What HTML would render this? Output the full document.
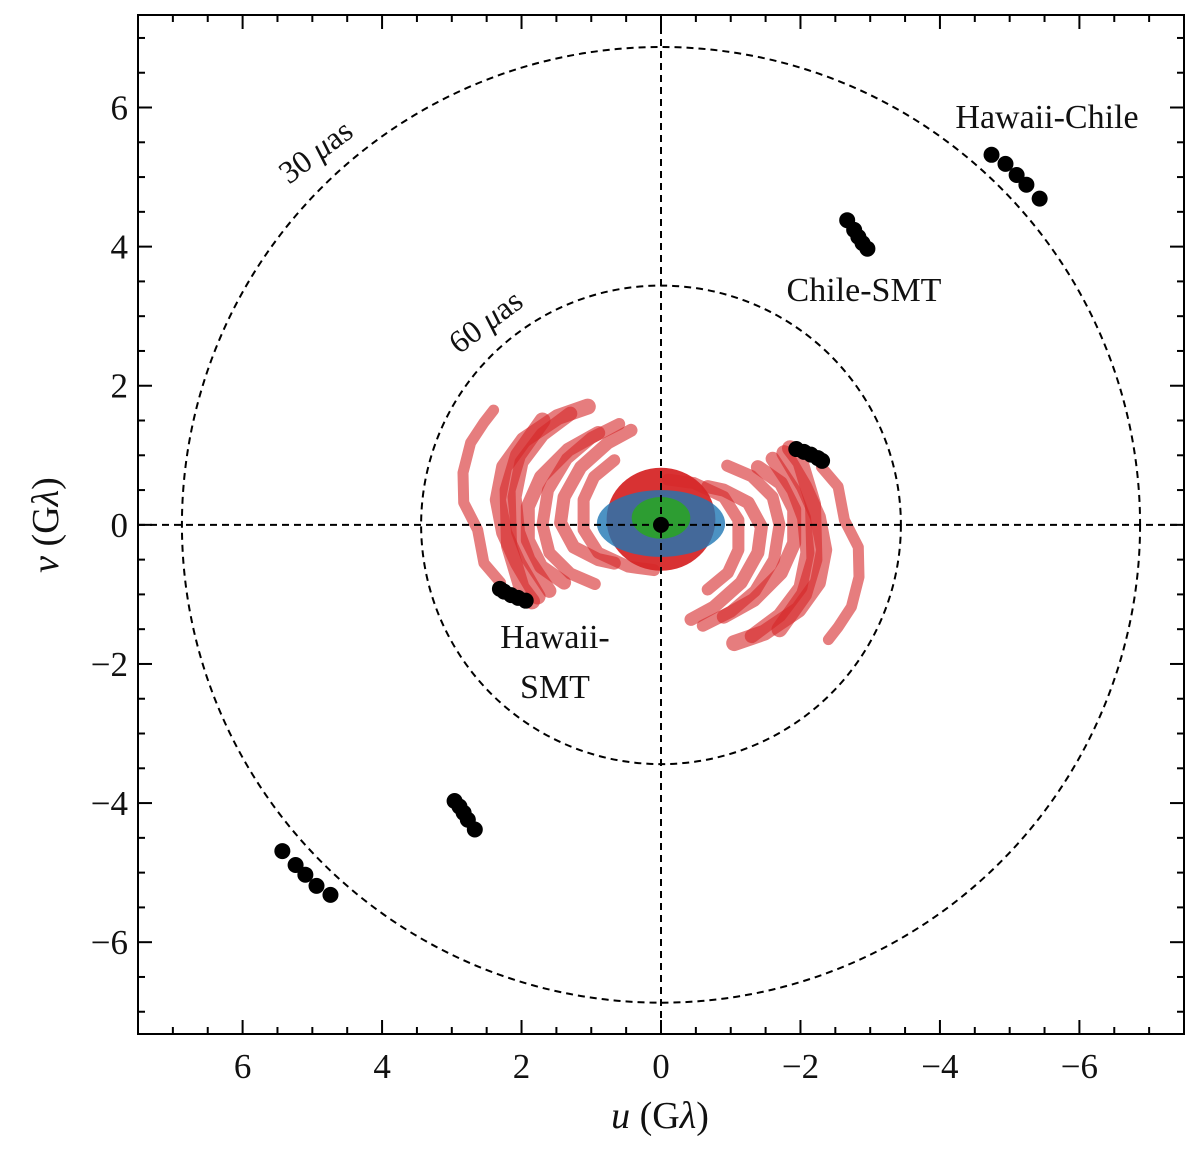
<!DOCTYPE html>
<html><head><meta charset="utf-8"><style>
html,body{margin:0;padding:0;background:#fff;overflow:hidden;}
svg{display:block;}
svg text{font-family:"Liberation Serif",serif;fill:#111;}
</style></head><body>
<svg id="chart" width="1200" height="1157" viewBox="0 0 1200 1157" xmlns="http://www.w3.org/2000/svg">
<g id="marks"></g>
<g id="axes"></g>
</svg>
<script>
// ---- data ----
const uRange = [7.5, -7.5];
const vRange = [-7.32, 7.33];
const tickValues = [-6, -4, -2, 0, 2, 4, 6];
const tickLabels = ["\u22126", "\u22124", "\u22122", "0", "2", "4", "6"];
const circleRadii = [6.87, 3.44];
// red tracks (one half; conjugates drawn by negation)
const redTrackA_u = [2.40, 2.54, 2.73, 2.84, 2.83, 2.63, 2.54, 2.30];
const redTrackA_v = [1.65, 1.47, 1.18, 0.75, 0.32, -0.07, -0.55, -0.83];
const redTrackB_u = [1.05, 1.48, 1.97, 2.25, 2.34, 2.25, 2.05, 1.77];
const redTrackB_v = [1.70, 1.55, 1.22, 0.83, 0.36, -0.11, -0.55, -1.03];
const redTrackC_u = [0.90, 1.33, 1.72, 1.91, 1.91, 1.72, 1.39];
const redTrackC_v = [1.32, 1.08, 0.69, 0.26, -0.22, -0.60, -0.83];
const redTrackD_u = [0.43, 0.76, 1.15, 1.39, 1.44, 1.25, 0.90, 0.67];
const redTrackD_v = [1.36, 1.18, 0.83, 0.40, 0.03, -0.32, -0.50, -0.55];
const redTrackE_u = [0.67, 0.96, 1.11, 1.11, 0.90, 0.47, 0.10];
const redTrackE_v = [0.93, 0.69, 0.36, -0.07, -0.40, -0.60, -0.65];
const redTrackF_u = [1.70, 2.05, 2.20, 2.18, 2.00, 1.85];
const redTrackF_v = [1.50, 1.00, 0.50, -0.30, -0.90, -1.10];
const redTrackG_u = [1.30, 1.70, 2.00, 2.10, 2.05, 1.90, 1.60];
const redTrackG_v = [1.60, 1.30, 0.90, 0.40, -0.10, -0.50, -0.95];
const redTrackH_u = [0.60, 1.00, 1.35, 1.62, 1.70, 1.60, 1.30, 0.95];
const redTrackH_v = [1.45, 1.25, 0.95, 0.50, 0.00, -0.40, -0.70, -0.85];
const redTracks = [[redTrackA_u, redTrackA_v], [redTrackB_u, redTrackB_v], [redTrackC_u, redTrackC_v], [redTrackD_u, redTrackD_v], [redTrackE_u, redTrackE_v], [redTrackF_u, redTrackF_v], [redTrackG_u, redTrackG_v], [redTrackH_u, redTrackH_v]];
const redWidths = [11, 16, 14, 13, 12, 16, 14, 12];
// central clusters: [u, v, radius-u, radius-v]
const redCore = [0, 0.08, 0.78, 0.74];
const blueCore = [0, 0.02, 0.92, 0.48];
const greenCore = [0, 0.1, 0.42, 0.3];
// black points
const hawaiiChile_u = [-4.74, -4.94, -5.10, -5.24, -5.43];
const hawaiiChile_v = [5.32, 5.19, 5.03, 4.89, 4.69];
const chileSMT_u = [-2.67, -2.77, -2.83, -2.89, -2.96];
const chileSMT_v = [4.38, 4.24, 4.14, 4.05, 3.97];
const hawaiiSMT_u = [-1.94, -2.05, -2.15, -2.25, -2.31];
const hawaiiSMT_v = [1.09, 1.05, 1.01, 0.96, 0.92];

// ---- scales ----
const X0 = 138, X1 = 1184, Y0 = 15, Y1 = 1034;
function xs(u){ return X0 + (u - uRange[0]) / (uRange[1] - uRange[0]) * (X1 - X0); }
function ys(v){ return Y1 - (v - vRange[0]) / (vRange[1] - vRange[0]) * (Y1 - Y0); }
const NS = "http://www.w3.org/2000/svg";
const svg = document.getElementById('chart');
const marks = document.getElementById('marks');
const axes = document.getElementById('axes');
function mk(tag, attrs, parent){ const e = document.createElementNS(NS, tag); for (const k in attrs) e.setAttribute(k, attrs[k]); parent.appendChild(e); return e; }

const defs = mk('defs', {}, svg);
const cp = mk('clipPath', {id: 'clip'}, defs);
mk('rect', {x: X0, y: Y0, width: X1 - X0, height: Y1 - Y0}, cp);
marks.setAttribute('clip-path', 'url(#clip)');

redTracks.forEach(function(t, i){
  [1, -1].forEach(function(s){
    const pts = t[0].map(function(u, j){ return xs(s*u).toFixed(1) + ',' + ys(s*t[1][j]).toFixed(1); }).join(' ');
    const pl = mk('polyline', {points: pts, fill: 'none', stroke: '#d62728', 'stroke-opacity': 0.6, 'stroke-width': redWidths[i], 'stroke-linecap': 'round', 'stroke-linejoin': 'round'}, marks);
    
    
  });
});
function core(c, color, op, name){
  const e = mk('ellipse', {cx: xs(c[0]), cy: ys(c[1]), rx: Math.abs(xs(c[2]) - xs(0)), ry: Math.abs(ys(c[3]) - ys(0)), fill: color, 'fill-opacity': op}, marks);
  
  
}
core(redCore, '#d62728', 0.95, 'red-core');
core(blueCore, '#1f77b4', 0.8, 'blue-core');
core(greenCore, '#2ca02c', 0.95, 'green-core');

const dash = {stroke: '#000', 'stroke-width': 2, 'stroke-dasharray': '7,5', fill: 'none'};
let l = mk('line', Object.assign({x1: X0, x2: X1, y1: ys(0), y2: ys(0)}, dash), marks);


l = mk('line', Object.assign({y1: Y0, y2: Y1, x1: xs(0), x2: xs(0)}, dash), marks);


circleRadii.forEach(function(r){
  const c = mk('ellipse', Object.assign({cx: xs(0), cy: ys(0), rx: Math.abs(xs(r) - xs(0)), ry: Math.abs(ys(r) - ys(0))}, dash), marks);
  
  
});

function blacks(us, vs, name){
  [1, -1].forEach(function(s){
    us.forEach(function(u, j){
      const c = mk('circle', {cx: xs(s*u), cy: ys(s*vs[j]), r: 8, fill: '#000'}, marks);
      
      
    });
  });
}
blacks(hawaiiChile_u, hawaiiChile_v, 'hawaii-chile-point');
blacks(chileSMT_u, chileSMT_v, 'chile-smt-point');
blacks(hawaiiSMT_u, hawaiiSMT_v, 'hawaii-smt-point');
const o = mk('circle', {cx: xs(0), cy: ys(0), r: 8, fill: '#000'}, marks);



const fr = mk('rect', {x: X0, y: Y0, width: X1 - X0, height: Y1 - Y0, fill: 'none', stroke: '#000', 'stroke-width': 2}, axes);


for (let k = -14; k <= 14; k++){
  const val = k / 2, major = (k % 4 === 0), len = major ? 14 : 7;
  const x = xs(val);
  mk('line', {x1: x, x2: x, y1: Y1, y2: Y1 - len, stroke: '#000', 'stroke-width': 2}, axes);
  mk('line', {x1: x, x2: x, y1: Y0, y2: Y0 + len, stroke: '#000', 'stroke-width': 2}, axes);
  const y = ys(val);
  if (val <= 7.3 && val >= -7.3){
    mk('line', {y1: y, y2: y, x1: X0, x2: X0 + len, stroke: '#000', 'stroke-width': 2}, axes);
    mk('line', {y1: y, y2: y, x1: X1, x2: X1 - len, stroke: '#000', 'stroke-width': 2}, axes);
  }
}
tickValues.forEach(function(v, i){
  const tx = mk('text', {x: xs(v), y: 1078, 'font-size': 35, 'text-anchor': 'middle'}, axes);
  tx.textContent = tickLabels[i];
  
  
  const ty = mk('text', {x: 128, y: ys(v) + 12, 'font-size': 35, 'text-anchor': 'end'}, axes);
  ty.textContent = tickLabels[i];
  
  
});

function t(x, y, size, txt, name, rot){
  const e = document.createElementNS(NS, 'text');
  e.setAttribute('x', x); e.setAttribute('y', y); e.setAttribute('font-size', size);
  e.setAttribute('text-anchor', 'middle');
  if (rot) e.setAttribute('transform', 'rotate(' + rot + ' ' + x + ' ' + y + ')');
  e.innerHTML = txt;
  
  
  svg.appendChild(e);
}
t(660, 1128, 38, '<tspan font-style="italic">u</tspan> (G<tspan font-style="italic">λ</tspan>)', 'x-axis-title');
t(58, 525, 38, '<tspan font-style="italic">v</tspan> (G<tspan font-style="italic">λ</tspan>)', 'y-axis-title', -90);
t(322, 160, 32, '30 <tspan font-style="italic">μ</tspan>as', 'label-30-muas', -37);
t(492, 330, 32, '60 <tspan font-style="italic">μ</tspan>as', 'label-60-muas', -37);
t(1047, 128, 34, 'Hawaii-Chile', 'label-hawaii-chile');
t(864, 301, 34, 'Chile-SMT', 'label-chile-smt');
t(555, 648, 34, 'Hawaii-', 'label-hawaii-smt-1');
t(555, 698, 34, 'SMT', 'label-hawaii-smt-2');
</script>
</body></html>
